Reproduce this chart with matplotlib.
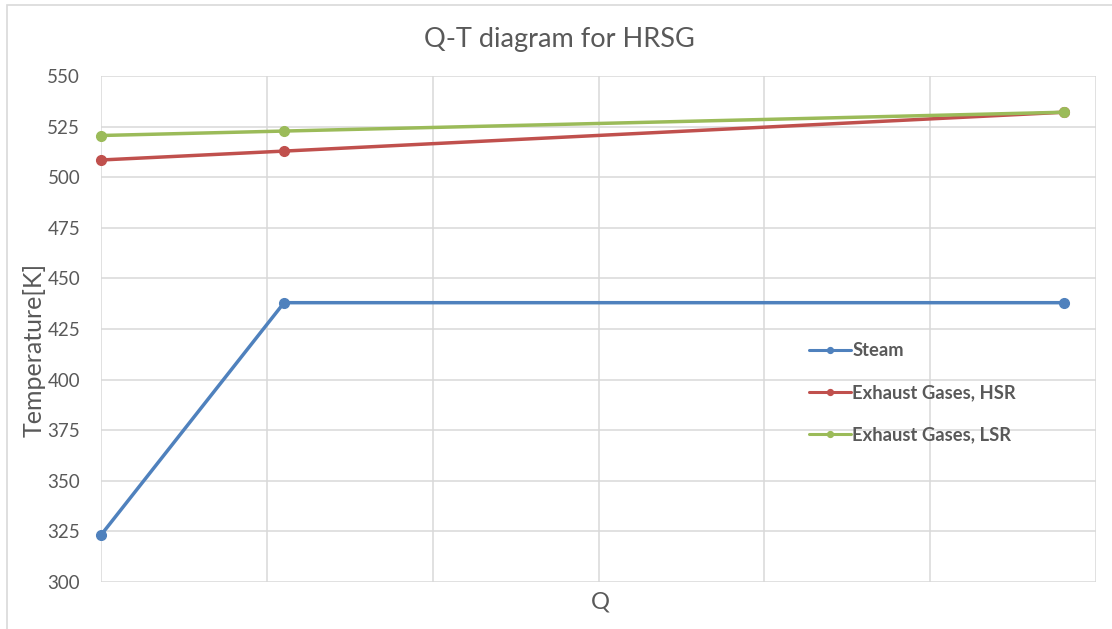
import numpy as np
import matplotlib
matplotlib.use("Agg")
from matplotlib import pyplot as plt
from matplotlib.patches import Rectangle

plt.rcParams['font.family'] = ['Lato', 'DejaVu Sans']

# heat transferred (arbitrary units, no tick labels shown) and temperatures
q_points = [0.0, 1.104, 5.808]
steam = [323.2, 438.0, 438.0]
exhaust_hsr = [508.5, 512.9, 532.1]
exhaust_lsr = [520.6, 522.8, 532.1]

series_names = ["Steam", "Exhaust Gases, HSR", "Exhaust Gases, LSR"]
series_colors = ["#4F81BD", "#C0504D", "#9BBB59"]

y_ticks = list(range(300, 551, 25))
x_ticks = list(range(0, 7))

text_grey = "#595959"
grid_grey = "#D9D9D9"

fig = plt.figure(figsize=(11.12, 6.29), dpi=100)
ax = fig.add_axes([101 / 1112, 1 - 582 / 629, (1096 - 101) / 1112, (582 - 76) / 629])

# chart area border (left and top edges visible)
fig.patches.append(Rectangle((7 / 1112, -0.05), 1.2, 1 - 5 / 629 + 0.05,
                             transform=fig.transFigure, fill=False,
                             edgecolor=grid_grey, linewidth=1.2))

for vals, name, col in zip([steam, exhaust_hsr, exhaust_lsr], series_names, series_colors):
    ax.plot(q_points, vals, color=col, linewidth=2.5, marker='o', markersize=7,
            label=name, solid_capstyle='round', zorder=3, clip_on=False)

ax.set_xlim(0, 6)
ax.set_ylim(300, 550)
ax.set_xticks(x_ticks)
ax.set_yticks(y_ticks)
ax.set_xticklabels([])
ax.grid(True, color=grid_grey, linewidth=1.1)
ax.set_axisbelow(True)
for s in ax.spines.values():
    s.set_visible(False)
ax.tick_params(axis='both', length=0, labelcolor=text_grey, labelsize=13.5)
ax.tick_params(axis='y', pad=15)

ax.set_ylabel("Temperature[K]", color=text_grey, fontsize=18)
ax.yaxis.set_label_coords(-55 / 995, (582 - 350) / 506)
ax.set_xlabel("Q", color=text_grey, fontsize=17)
ax.xaxis.set_label_coords((600 - 101) / 995, -10 / 506)

fig.text(559 / 1112, 1 - 40 / 629, "Q-T diagram for HRSG", ha='center', va='center',
         fontsize=19.5, color=text_grey)

handles, labels = ax.get_legend_handles_labels()
leg = ax.legend(handles, labels, loc='upper left',
                bbox_to_anchor=((792 - 101) / 995, (582 - 326) / 506),
                frameon=False, fontsize=13.2, labelspacing=1.35,
                handlelength=2.3, handletextpad=0.1, markerscale=0.6)
for txt in leg.get_texts():
    txt.set_color(text_grey)
    txt.set_fontweight('bold')
for line in leg.get_lines():
    line.set_linewidth(2.2)

fig.savefig("out.png", dpi=100)
